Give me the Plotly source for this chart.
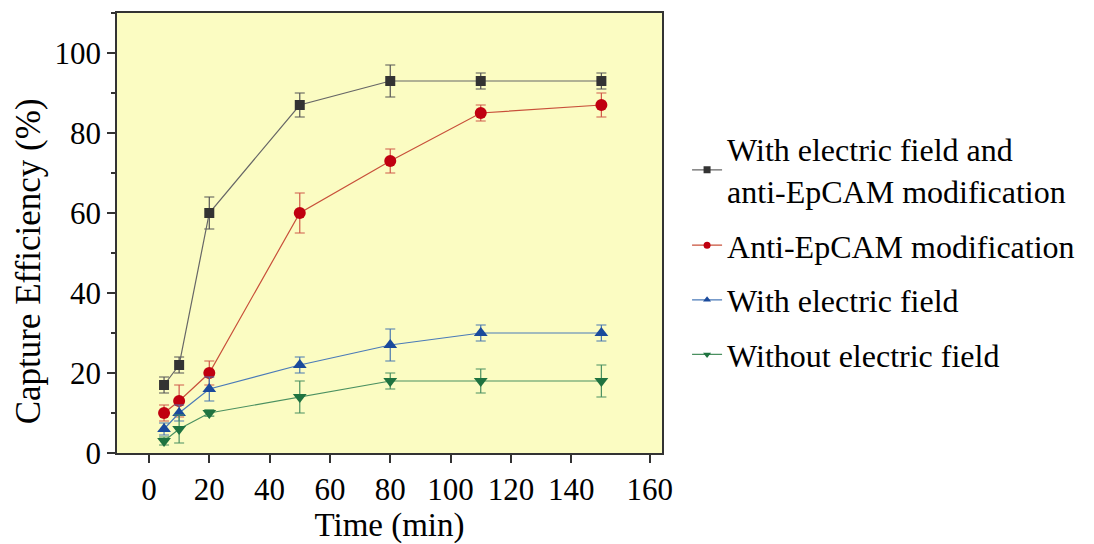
import plotly.graph_objects as go

time_min = [5, 10, 20, 50, 80, 110, 150]

series_names = [
    "With electric field and<br>anti-EpCAM modification",
    "Anti-EpCAM modification",
    "With electric field",
    "Without electric field",
]
both_vals = [17, 22, 60, 87, 93, 93, 93]
both_err = [2, 2, 4, 3, 4, 2, 2]
epcam_vals = [10, 13, 20, 60, 73, 85, 87]
epcam_err = [2, 4, 3, 5, 3, 2, 3]
field_vals = [6, 10, 16, 22, 27, 30, 30]
field_err = [1.5, 2, 3, 2, 4, 2, 2]
none_vals = [3, 6, 10, 14, 18, 18, 18]
none_err = [1, 3.5, 0.8, 4, 2, 3, 4]

x_tick_vals = [0, 20, 40, 60, 80, 100, 120, 140, 166]
x_tick_text = ["0", "20", "40", "60", "80", "100", "120", "140", "160"]
y_tick_vals = [0, 20, 40, 60, 80, 100]

styles = [
    dict(marker="#333333", line="#666666", err="#555555", symbol="square", size=10),
    dict(marker="#c00010", line="#c8503a", err="#d05a4a", symbol="circle", size=12),
    dict(marker="#1a4a9c", line="#4a7ab8", err="#4a78b0", symbol="triangle-up", size=12),
    dict(marker="#1f7340", line="#4a9060", err="#4a9060", symbol="triangle-down", size=12),
]

fig = go.Figure()
for name, vals, errs, st in zip(series_names,
                                [both_vals, epcam_vals, field_vals, none_vals],
                                [both_err, epcam_err, field_err, none_err],
                                styles):
    fig.add_trace(go.Scatter(
        x=time_min, y=vals, name=name, mode="lines+markers",
        legendgroup=name, showlegend=False,
        line=dict(color=st["line"], width=1.2),
        marker=dict(color=st["marker"], symbol=st["symbol"], size=st["size"]),
        error_y=dict(type="data", array=errs, visible=True, color=st["err"],
                     thickness=1.2, width=5),
    ))
    # legend entry with the small legend symbol of the original
    fig.add_trace(go.Scatter(
        x=[None], y=[None], name=name, mode="lines+markers",
        legendgroup=name, showlegend=True,
        line=dict(color=st["line"], width=1.2),
        marker=dict(color=st["marker"], symbol=st["symbol"], size=7),
    ))

font = "Liberation Serif"
fig.update_layout(
    width=1094, height=544,
    margin=dict(l=117, r=432, t=13, b=91),
    paper_bgcolor="white",
    plot_bgcolor="#fbfcc2",
    font=dict(family=font, size=31, color="black"),
    legend=dict(x=1.046, y=0.753, xanchor="left", yanchor="top",
                font=dict(family=font, size=32, color="black"),
                bgcolor="rgba(0,0,0,0)", tracegroupgap=10),
    xaxis=dict(range=[-10.6, 170.1], tickvals=x_tick_vals, ticktext=x_tick_text,
               showgrid=False, zeroline=False, showline=True, linecolor="#333333",
               linewidth=1.5, mirror=True, ticks="outside", ticklen=8,
               tickcolor="#333333", tickwidth=1.5, automargin=False,
               title=dict(text="Time (min)", font=dict(size=33), standoff=6)),
    yaxis=dict(range=[0, 110], tickvals=y_tick_vals,
               showgrid=False, zeroline=False, showline=True, linecolor="#333333",
               linewidth=1.5, mirror=True, ticks="outside", ticklen=8,
               tickcolor="#333333", tickwidth=1.5, automargin=False,
               minor=dict(dtick=10, tick0=0, ticks="outside", ticklen=4,
                          tickcolor="#333333", tickwidth=1.5, showgrid=False)),
    annotations=[dict(text="Capture Efficiency (%)", textangle=-90,
                      xref="paper", yref="paper", x=-0.163, y=0.436,
                      xanchor="center", yanchor="middle", showarrow=False,
                      font=dict(family=font, size=35, color="black"))],
)

fig.write_html("out.html")
